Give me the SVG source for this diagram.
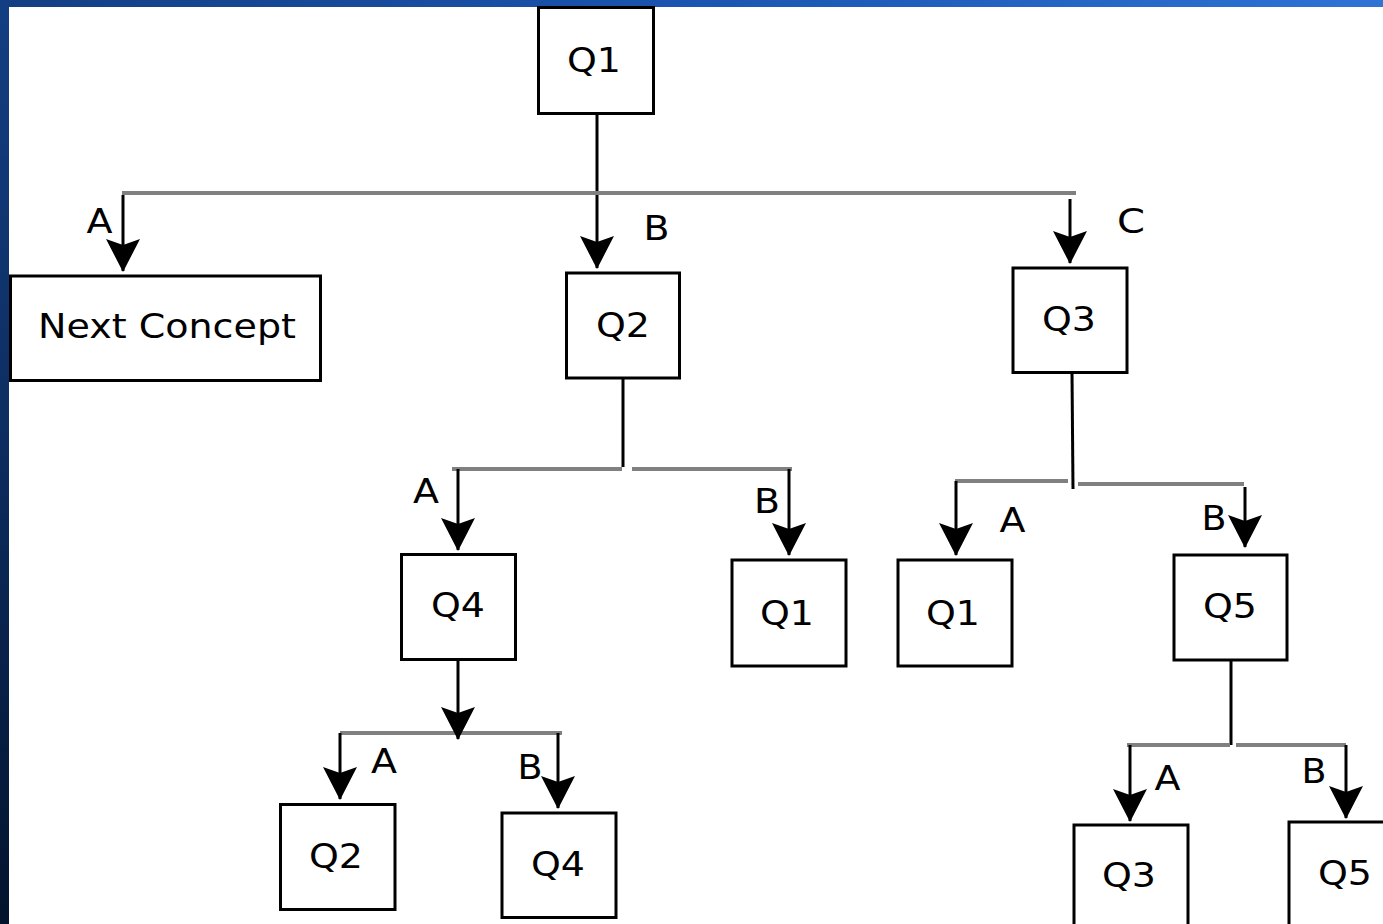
<svg xmlns="http://www.w3.org/2000/svg" width="1383" height="924" viewBox="0 0 1383 924">
<defs>
<linearGradient id="gTop" x1="0" y1="0" x2="1" y2="0">
<stop offset="0" stop-color="#143e83"/>
<stop offset="0.5" stop-color="#1a55b0"/>
<stop offset="1" stop-color="#2f73d5"/>
</linearGradient>
<linearGradient id="gLeft" x1="0" y1="0" x2="0" y2="1">
<stop offset="0" stop-color="#143e83"/>
<stop offset="0.5" stop-color="#0c2c5e"/>
<stop offset="1" stop-color="#03132d"/>
</linearGradient>
<marker id="arr" viewBox="-34 -18 36 36" refX="0" refY="0" markerWidth="36" markerHeight="36" markerUnits="userSpaceOnUse" orient="auto">
<path d="M1,0 L-32,-17 L-26,0 L-32,17 Z" fill="#000"/>
</marker>
<style>
.node rect{fill:#fff;stroke:#000;stroke-width:3}
.node text{font-family:"DejaVu Sans","Liberation Sans",sans-serif;font-size:33px;fill:#000;text-anchor:middle}
.lbl{font-family:"DejaVu Sans","Liberation Sans",sans-serif;font-size:33px;fill:#000;text-anchor:middle}
.bar{stroke:#808080;stroke-width:4;fill:none}
.drop{stroke:#000;stroke-width:3;fill:none}
.arrow{stroke:#000;stroke-width:3;fill:none;marker-end:url(#arr)}
</style>
</defs>
<rect x="0" y="0" width="1383" height="924" fill="#fff"/>
<rect x="0" y="0" width="1383" height="7" fill="url(#gTop)"/>
<rect x="0" y="0" width="9" height="924" fill="url(#gLeft)"/>

<g id="connectors">
<line class="arrow" x1="597" y1="114" x2="597" y2="268"/>
<line class="bar" x1="122" y1="193" x2="1076" y2="193"/>
<line class="arrow" x1="123" y1="195" x2="123" y2="271"/>
<line class="arrow" x1="1070" y1="199" x2="1070" y2="263"/>

<line class="drop" x1="623" y1="379" x2="623" y2="467"/>
<line class="bar" x1="452" y1="469" x2="622" y2="469"/>
<line class="bar" x1="632" y1="469" x2="792" y2="469"/>
<line class="arrow" x1="458" y1="469" x2="458" y2="550"/>
<line class="arrow" x1="789" y1="469" x2="789" y2="555"/>

<line class="drop" x1="1072" y1="373" x2="1073" y2="489"/>
<line class="bar" x1="955" y1="481" x2="1068" y2="481"/>
<line class="bar" x1="1078" y1="484" x2="1244" y2="484"/>
<line class="arrow" x1="956" y1="481" x2="956" y2="555"/>
<line class="arrow" x1="1245" y1="487" x2="1245" y2="547"/>

<line class="bar" x1="340" y1="733" x2="562" y2="733"/>
<line class="arrow" x1="458" y1="660" x2="458" y2="739"/>
<line class="arrow" x1="340" y1="733" x2="340" y2="799"/>
<line class="arrow" x1="558" y1="733" x2="558" y2="808"/>

<line class="drop" x1="1231" y1="661" x2="1231" y2="745"/>
<line class="bar" x1="1127" y1="745" x2="1230" y2="745"/>
<line class="bar" x1="1236" y1="745" x2="1346" y2="745"/>
<line class="arrow" x1="1130" y1="745" x2="1130" y2="821"/>
<line class="arrow" x1="1346" y1="745" x2="1346" y2="818"/>
</g>

<g id="labels">
<text class="lbl" x="99.5" y="233" textLength="26" lengthAdjust="spacingAndGlyphs">A</text>
<text class="lbl" x="656.5" y="240" textLength="26" lengthAdjust="spacingAndGlyphs">B</text>
<text class="lbl" x="1131" y="233" textLength="28" lengthAdjust="spacingAndGlyphs">C</text>
<text class="lbl" x="426" y="503" textLength="26" lengthAdjust="spacingAndGlyphs">A</text>
<text class="lbl" x="767" y="513" textLength="26" lengthAdjust="spacingAndGlyphs">B</text>
<text class="lbl" x="1012.5" y="532" textLength="26" lengthAdjust="spacingAndGlyphs">A</text>
<text class="lbl" x="1214" y="530" textLength="25" lengthAdjust="spacingAndGlyphs">B</text>
<text class="lbl" x="384" y="773" textLength="26" lengthAdjust="spacingAndGlyphs">A</text>
<text class="lbl" x="530" y="779" textLength="25" lengthAdjust="spacingAndGlyphs">B</text>
<text class="lbl" x="1167.5" y="790" textLength="26" lengthAdjust="spacingAndGlyphs">A</text>
<text class="lbl" x="1314" y="783" textLength="25" lengthAdjust="spacingAndGlyphs">B</text>
</g>

<g id="n-q1" class="node"><rect x="538.5" y="7.5" width="115" height="106"/><text x="594" y="72" textLength="54" lengthAdjust="spacingAndGlyphs">Q1</text></g>
<g id="n-next" class="node"><rect x="10.5" y="276" width="310" height="104.5"/><text x="167" y="338" textLength="258" lengthAdjust="spacingAndGlyphs">Next Concept</text></g>
<g id="n-q2" class="node"><rect x="566.5" y="273" width="113" height="105"/><text x="623" y="337" textLength="54" lengthAdjust="spacingAndGlyphs">Q2</text></g>
<g id="n-q3" class="node"><rect x="1013" y="268" width="114" height="104.5"/><text x="1069" y="331" textLength="54" lengthAdjust="spacingAndGlyphs">Q3</text></g>
<g id="n-q4" class="node"><rect x="401.5" y="554.5" width="114" height="105"/><text x="458" y="617" textLength="54" lengthAdjust="spacingAndGlyphs">Q4</text></g>
<g id="n-q1b" class="node"><rect x="732" y="560" width="114" height="106"/><text x="787" y="625" textLength="54" lengthAdjust="spacingAndGlyphs">Q1</text></g>
<g id="n-q1c" class="node"><rect x="898" y="560" width="114" height="106"/><text x="953" y="625" textLength="54" lengthAdjust="spacingAndGlyphs">Q1</text></g>
<g id="n-q5" class="node"><rect x="1174" y="555" width="113" height="105"/><text x="1230" y="618" textLength="54" lengthAdjust="spacingAndGlyphs">Q5</text></g>
<g id="n-q2b" class="node"><rect x="280.5" y="804.5" width="114.5" height="105"/><text x="336" y="868" textLength="54" lengthAdjust="spacingAndGlyphs">Q2</text></g>
<g id="n-q4b" class="node"><rect x="502" y="813" width="114" height="104.5"/><text x="558" y="876" textLength="54" lengthAdjust="spacingAndGlyphs">Q4</text></g>
<g id="n-q3b" class="node"><rect x="1074" y="825" width="114" height="110"/><text x="1129" y="887" textLength="54" lengthAdjust="spacingAndGlyphs">Q3</text></g>
<g id="n-q5b" class="node"><rect x="1289" y="822" width="120" height="110"/><text x="1345" y="885" textLength="54" lengthAdjust="spacingAndGlyphs">Q5</text></g>
</svg>
